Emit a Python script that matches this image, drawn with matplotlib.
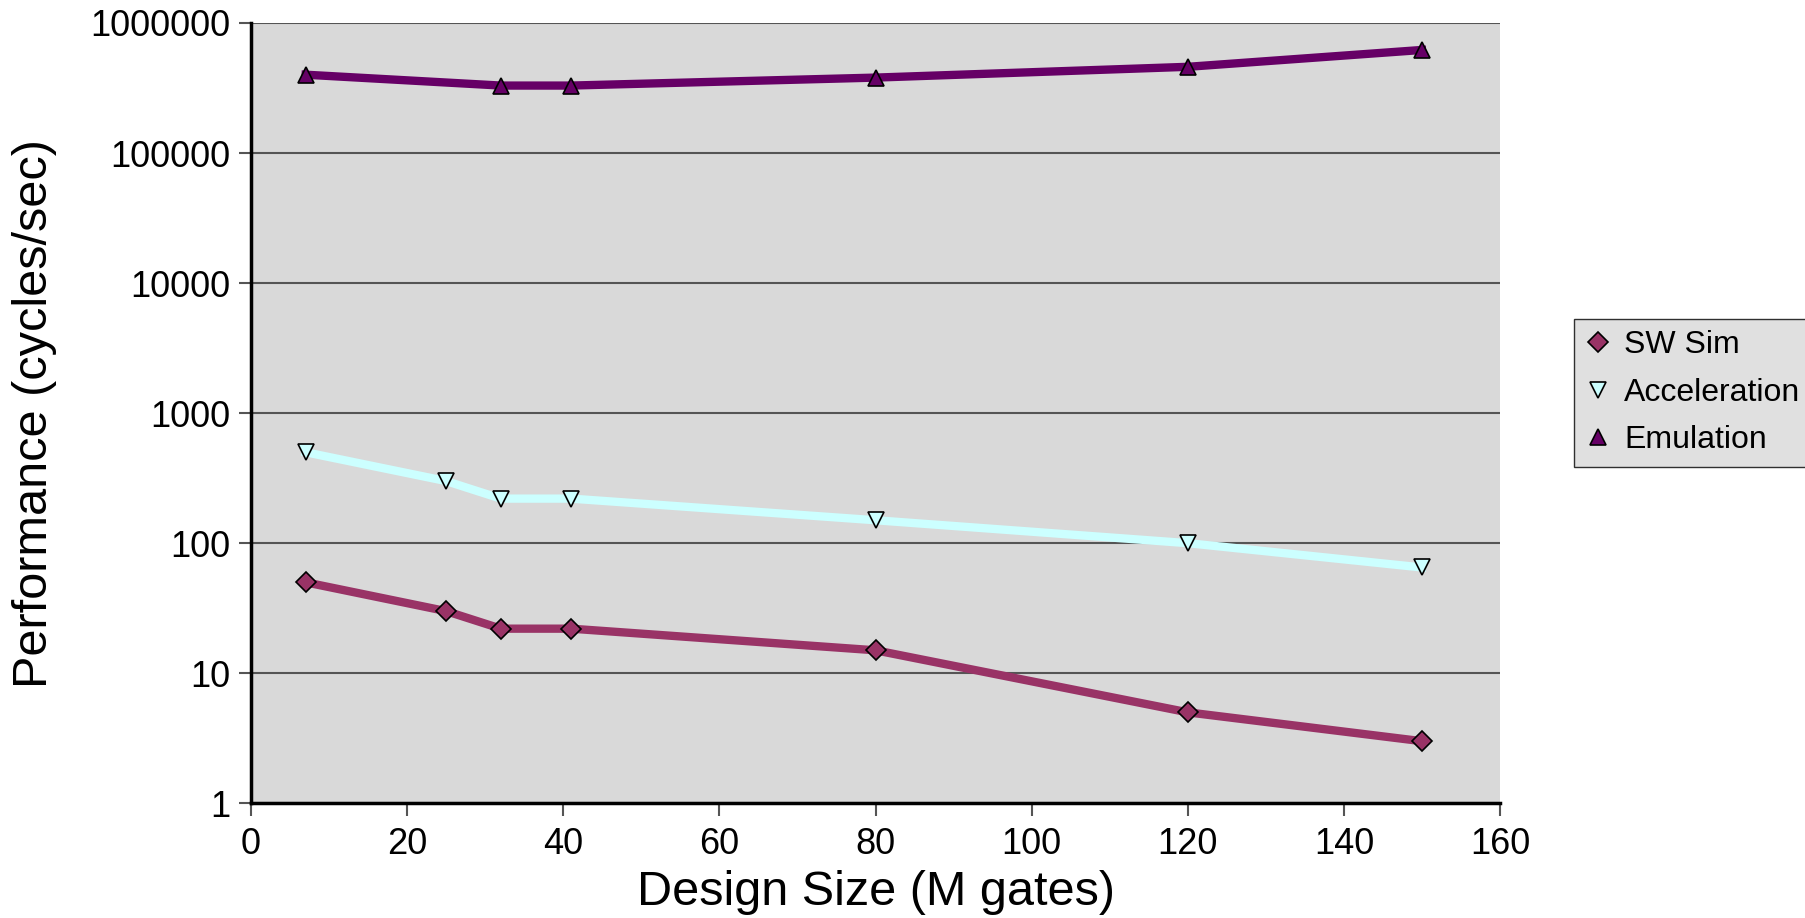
import numpy as np
import matplotlib.pyplot as plt
from matplotlib.ticker import FixedLocator, FixedFormatter, NullLocator

plt.rcParams['font.family'] = ['Liberation Sans', 'DejaVu Sans']

# data
sw_x = [7, 25, 32, 41, 80, 120, 150]
sw_y = [50, 30, 22, 22, 15, 5, 3]
acc_x = [7, 25, 32, 41, 80, 120, 150]
acc_y = [500, 300, 220, 220, 150, 100, 65]
emu_x = [7, 32, 41, 80, 120, 150]
emu_y = [400000, 330000, 330000, 380000, 460000, 620000]

y_ticks = [1, 10, 100, 1000, 10000, 100000, 1000000]
y_labels = ['1', '10', '100', '1000', '10000', '100000', '1000000']

fig = plt.figure(figsize=(18.06, 9.18), dpi=100)
ax = fig.add_axes([0.139, 0.125, 0.6916, 0.85])
ax.set_facecolor('#D9D9D9')

ax.plot(sw_x, sw_y, color='#993366', lw=6, marker='D', ms=10,
        mfc='#993366', mec='black', mew=1.2, label='SW Sim', zorder=3)
ax.plot(acc_x, acc_y, color='#CCFFFF', lw=6, marker='v', ms=12,
        mfc='#CCFFFF', mec='black', mew=1.2, label='Acceleration', zorder=3)
ax.plot(emu_x, emu_y, color='#660066', lw=6, marker='^', ms=12,
        mfc='#660066', mec='black', mew=1.2, label='Emulation', zorder=3)

ax.set_yscale('log')
ax.set_ylim(1, 1000000)
ax.set_xlim(0, 160)
ax.yaxis.set_major_locator(FixedLocator(y_ticks))
ax.yaxis.set_major_formatter(FixedFormatter(y_labels))
ax.yaxis.set_minor_locator(NullLocator())
ax.set_xticks(np.arange(0, 161, 20))

ax.grid(axis='y', color='#555555', lw=1.5)
ax.set_axisbelow(True)
for s in ['top', 'right']:
    ax.spines[s].set_visible(False)
for s in ['left', 'bottom']:
    ax.spines[s].set_linewidth(2.5)
ax.tick_params(labelsize=26, width=1.5, length=9, color='#555555')
ax.tick_params(axis='x', pad=8)
ax.tick_params(axis='y', pad=6)

ax.set_xlabel('Design Size (M gates)', fontsize=35, labelpad=6)
ax.set_ylabel('Performance (cycles/sec)', fontsize=35, labelpad=24)

leg = fig.legend(loc='upper left', bbox_to_anchor=(0.8718, 0.6525), fontsize=23,
                 frameon=True, fancybox=False, edgecolor='black',
                 facecolor='#D9D9D9', handlelength=0.8, handletextpad=0.4,
                 borderpad=0.35, labelspacing=0.55, markerscale=1.0,
                 borderaxespad=0)
leg.get_frame().set_linewidth(1)
for h in leg.legend_handles:
    h.set_linestyle('none')

fig.savefig('out.png', dpi=100)
